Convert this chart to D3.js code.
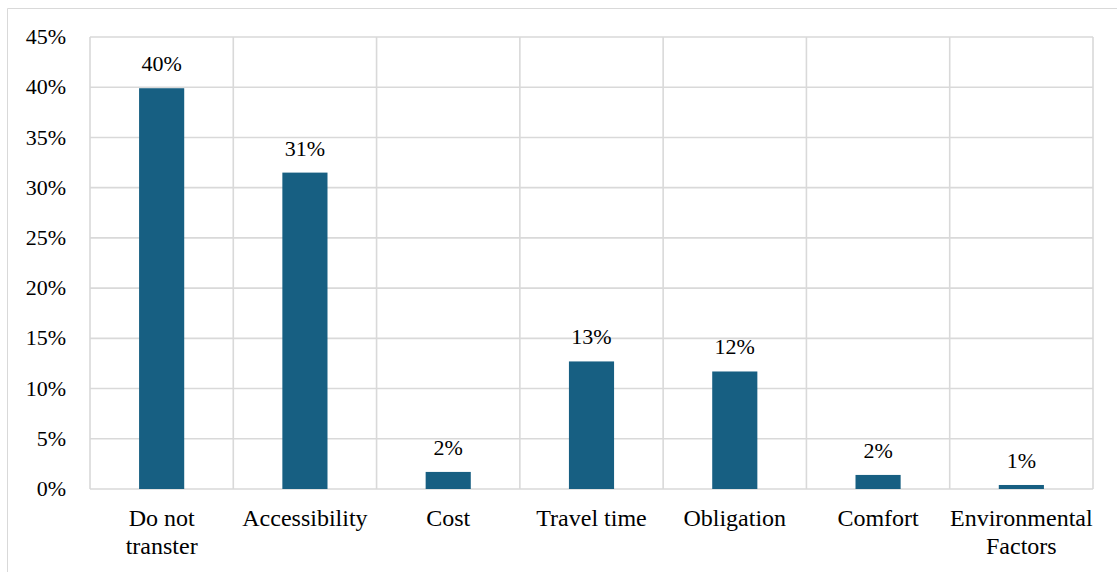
<!DOCTYPE html>
<html>
<head>
<meta charset="utf-8">
<script src="https://cdn.jsdelivr.net/npm/d3@7"></script>
<style>
  html, body { margin: 0; padding: 0; background: #fff; }
</style>
</head>
<body>
<svg id="chart" width="1118" height="572"></svg>
<script>
// Reasons given, share of respondents (%)
const categories = [["Do not", "transter"], ["Accessibility"], ["Cost"], ["Travel time"], ["Obligation"], ["Comfort"], ["Environmental", "Factors"]];
const values = [39.9, 31.5, 1.7, 12.7, 11.7, 1.4, 0.4];
const valueLabels = ["40%", "31%", "2%", "13%", "12%", "2%", "1%"];
const yTicks = [0, 5, 10, 15, 20, 25, 30, 35, 40, 45];

const FONT = "'Liberation Serif', 'Times New Roman', Times, serif";
const svg = d3.select("#chart");
const W = 1118, H = 572;
const plot = { left: 90, right: 1093, top: 37, bottom: 489 };
const gridColor = "#d9d9d9";
const barColor = "#175f82";

// outer frame (top and left edges)
svg.append("line").attr("x1", 7.5).attr("x2", 1117).attr("y1", 8.5).attr("y2", 8.5)
  .attr("stroke", gridColor).attr("stroke-width", 1);
svg.append("line").attr("x1", 7.5).attr("x2", 7.5).attr("y1", 8.5).attr("y2", H)
  .attr("stroke", gridColor).attr("stroke-width", 1);

const idx = d3.range(categories.length);
const x = d3.scaleBand().domain(idx).range([plot.left, plot.right]).paddingInner(0).paddingOuter(0);
const y = d3.scaleLinear().domain([0, 45]).range([plot.bottom, plot.top]);

// horizontal gridlines
svg.append("g").selectAll("line").data(yTicks).join("line")
  .attr("x1", plot.left).attr("x2", plot.right)
  .attr("y1", d => y(d)).attr("y2", d => y(d))
  .attr("stroke", gridColor).attr("stroke-width", 1.6);

// vertical gridlines at category boundaries
const bounds = idx.map(i => x(i)).concat([plot.right]);
svg.append("g").selectAll("line").data(bounds).join("line")
  .attr("x1", d => d).attr("x2", d => d)
  .attr("y1", plot.top).attr("y2", plot.bottom)
  .attr("stroke", gridColor).attr("stroke-width", 1.6);

// y axis labels
const yAxis = d3.axisLeft(y).tickValues(yTicks).tickFormat(d => d + "%").tickSize(0).tickPadding(24);
const ya = svg.append("g").attr("transform", `translate(${plot.left},0)`).call(yAxis);
ya.select(".domain").remove();
ya.selectAll("text")
  .style("font-family", FONT).style("font-size", "22px")
  .attr("fill", "#000").attr("dy", "0.3em");

// bars
const bw = x.bandwidth() * 0.315;
svg.append("g").selectAll("rect").data(values).join("rect")
  .attr("x", (d, i) => x(i) + (x.bandwidth() - bw) / 2)
  .attr("width", bw)
  .attr("y", d => y(d))
  .attr("height", d => y(0) - y(d))
  .attr("fill", barColor);

// value labels
svg.append("g").selectAll("text").data(values).join("text")
  .attr("x", (d, i) => x(i) + x.bandwidth() / 2)
  .attr("y", d => y(d) - 17)
  .attr("text-anchor", "middle")
  .attr("fill", "#000")
  .style("font-family", FONT).style("font-size", "22px")
  .text((d, i) => valueLabels[i]);

// category labels
const cat = svg.append("g").selectAll("text").data(categories).join("text")
  .attr("x", (d, i) => x(i) + x.bandwidth() / 2)
  .attr("y", plot.bottom + 37)
  .attr("text-anchor", "middle")
  .attr("fill", "#000")
  .style("font-family", FONT).style("font-size", "24px");
cat.selectAll("tspan").data(d => d).join("tspan")
  .attr("x", function () { return d3.select(this.parentNode).attr("x"); })
  .attr("dy", (d, j) => j === 0 ? 0 : 27.6)
  .text(d => d);
</script>
</body>
</html>
